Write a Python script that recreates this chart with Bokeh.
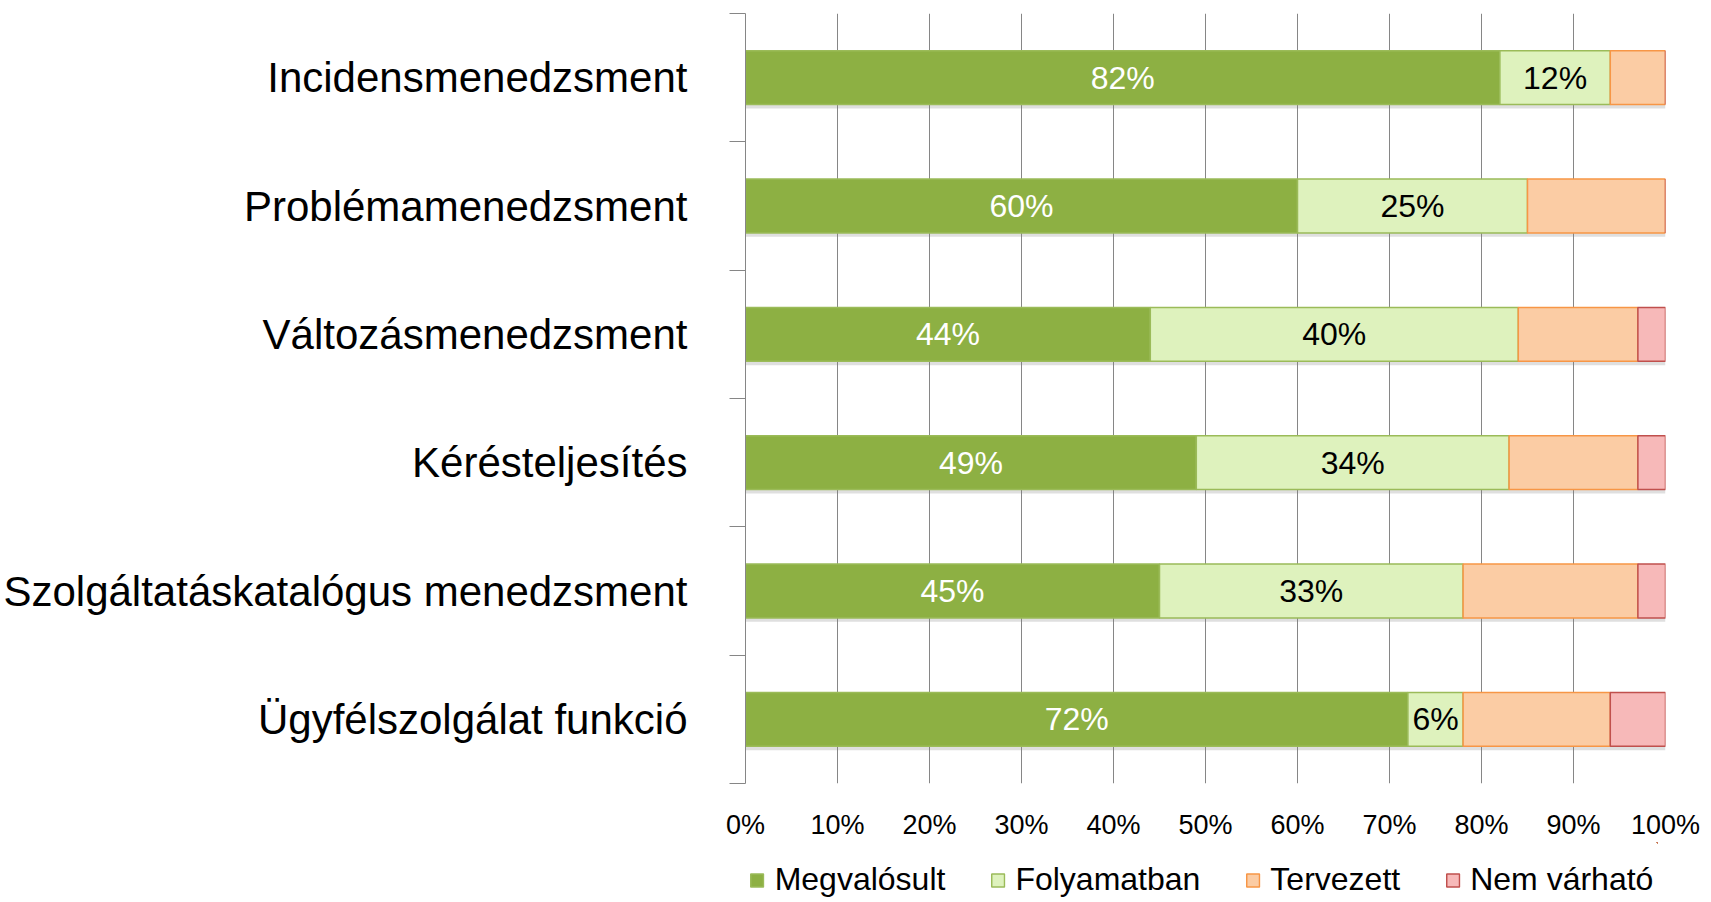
from bokeh.plotting import figure
from bokeh.layouts import column
from bokeh.models import Range1d, FixedTicker, Legend, LegendItem, ColumnDataSource
from bokeh.core.properties import value
from bokeh.transform import dodge
from bokeh.embed import file_html
from bokeh.resources import INLINE

# ---- data ----
categories = [
    "Incidensmenedzsment",
    "Problémamenedzsment",
    "Változásmenedzsment",
    "Kérésteljesítés",
    "Szolgáltatáskatalógus menedzsment",
    "Ügyfélszolgálat funkció",
]
megvalosult = [82, 60, 44, 49, 45, 72]
folyamatban = [12, 25, 40, 34, 33, 6]
tervezett = [6, 15, 13, 14, 19, 16]
nem_varhato = [0, 0, 3, 3, 3, 6]
series_names = ["Megvalósult", "Folyamatban", "Tervezett", "Nem várható"]
x_ticks = [0, 10, 20, 30, 40, 50, 60, 70, 80, 90, 100]
x_tick_labels = ["0%", "10%", "20%", "30%", "40%", "50%", "60%", "70%", "80%", "90%", "100%"]

# ---- styles ----
FONT = "Liberation Sans"
fills = ["#8DB043", "#DEF2BD", "#FBCCA4", "#F7B9B9"]
lines = ["#9BBB59", "#9BBB59", "#F79646", "#C0504D"]
label_colors = ["white", "black"]
GRID = "#868686"

n = len(categories)
ypos = [i + 0.5 for i in range(n)]
series = [megvalosult, folyamatban, tervezett, nem_varhato]
totals = [sum(v) for v in zip(*series)]

p = figure(
    frame_width=920, frame_height=770,
    x_range=Range1d(0, 100), y_range=Range1d(n, 0),
    output_backend="svg", toolbar_location=None,
    min_border_left=700, min_border_right=38, min_border_top=13, min_border_bottom=56,
)
p.outline_line_color = None
p.background_fill_color = "white"
p.border_fill_color = "white"

# y axis: labels at category centres, ticks at category boundaries
p.yaxis.ticker = FixedTicker(ticks=ypos, minor_ticks=list(range(n + 1)))
p.yaxis.major_label_overrides = {y: c for y, c in zip(ypos, categories)}
p.yaxis.major_tick_line_color = None
p.yaxis.major_tick_out = 0
p.yaxis.major_tick_in = 0
p.yaxis.minor_tick_out = 16
p.yaxis.minor_tick_in = 0
p.yaxis.minor_tick_line_color = GRID
p.yaxis.axis_line_color = GRID
p.yaxis.major_label_standoff = 42
p.yaxis.major_label_text_font = FONT
p.yaxis.major_label_text_font_size = "42px"
p.yaxis.major_label_text_color = "black"

# x axis
p.xaxis.ticker = FixedTicker(ticks=x_ticks)
p.xaxis.major_label_overrides = {t: l for t, l in zip(x_ticks, x_tick_labels)}
p.xaxis.axis_line_color = None
p.xaxis.major_tick_line_color = None
p.xaxis.minor_tick_line_color = None
p.xaxis.major_tick_out = 0
p.xaxis.major_label_standoff = 26
p.xaxis.major_label_text_font = FONT
p.xaxis.major_label_text_font_size = "27px"
p.xaxis.major_label_text_color = "black"

p.ygrid.grid_line_color = None
p.xgrid.ticker = FixedTicker(ticks=x_ticks)
p.xgrid.grid_line_color = GRID
p.xgrid.grid_line_width = 1

# soft shadow under each bar
shadow_src = ColumnDataSource(dict(y=ypos, right=totals))
p.hbar(y=dodge("y", 0.03, range=p.y_range), left=0, right="right", height=0.42,
       source=shadow_src, fill_color="#7f7f7f", fill_alpha=0.25, line_color=None)

# legend strip below the chart (its ranges show none of the bars; it only hosts the legend)
lf = figure(
    width=1695, height=56, x_range=Range1d(-1000, -900), y_range=Range1d(-1000, -999),
    output_backend="svg", toolbar_location=None,
    min_border_left=687, min_border_right=0, min_border_top=0, min_border_bottom=0,
)
lf.axis.visible = False
lf.grid.visible = False
lf.outline_line_color = None
lf.border_fill_color = "white"

# stacked bars
left = [0] * n
items = []
for k, vals in enumerate(series):
    right = [l + v for l, v in zip(left, vals)]
    src = ColumnDataSource(dict(y=ypos, left=left, right=right))
    p.hbar(y="y", left="left", right="right", height=0.42, source=src,
           fill_color=fills[k], line_color=lines[k], line_width=1.5)
    lr = lf.hbar(y="y", left="left", right="right", height=0.42, source=src,
                 fill_color=fills[k], line_color=lines[k], line_width=1.5)
    items.append(LegendItem(label=series_names[k], renderers=[lr]))
    if k < 2:
        centers = [(l + rr) / 2 for l, rr in zip(left, right)]
        texts = [f"{v}%" for v in vals]
        p.text(x=centers, y=ypos, text=texts, text_align="center", text_baseline="middle",
               text_font=value(FONT), text_font_size="32px", text_color=label_colors[k])
    left = right

legend = Legend(
    items=items, orientation="horizontal", location="bottom_center",
    label_text_font=FONT, label_text_font_size="32px", label_text_color="black",
    glyph_width=16, glyph_height=16, label_standoff=10, spacing=44,
    border_line_color=None, background_fill_alpha=0, padding=0, margin=0,
)
lf.add_layout(legend, "center")

open("out.html", "w").write(file_html(column(p, lf), INLINE))
